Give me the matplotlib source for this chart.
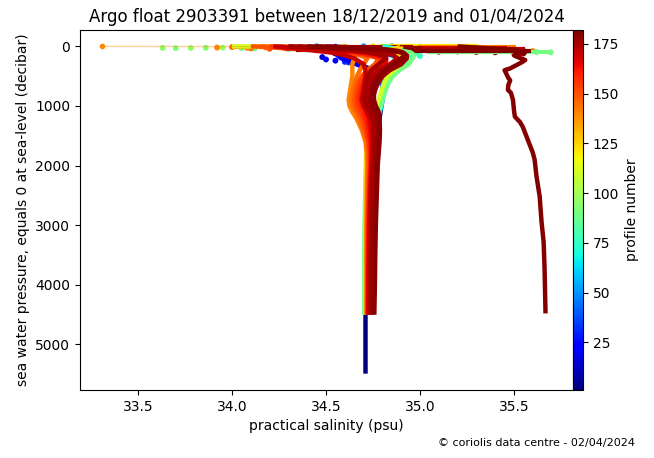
import numpy as np
import matplotlib
matplotlib.use("Agg")
import matplotlib.pyplot as plt
from matplotlib import cm
from matplotlib.colors import Normalize

# pressure levels (decibar) shared by most profiles
pres_levels = [0, 5, 25, 50, 75, 100, 150, 200, 300, 400, 500, 600, 700, 800, 900,
               1000, 1100, 1200, 1400, 1600, 1800, 2000, 2500, 3000, 3500, 4000, 4500]

# profile 1 goes deeper than the others
pres_001 = pres_levels + [4800, 5100, 5490]
sal_001 = [34.55, 34.55, 34.55, 34.56, 34.57, 34.58, 34.60, 34.62, 34.68, 34.75, 34.79, 34.81,
           34.81, 34.80, 34.80, 34.795, 34.79, 34.785, 34.775, 34.76, 34.75, 34.74, 34.73,
           34.72, 34.715, 34.712, 34.71, 34.71, 34.71, 34.71]

sal_020 = [34.48, 34.48, 34.49, 34.50, 34.52, 34.54, 34.56, 34.58, 34.66, 34.74, 34.78, 34.80,
           34.805, 34.80, 34.795, 34.79, 34.785, 34.78, 34.77, 34.755, 34.745, 34.74, 34.73,
           34.72, 34.715, 34.712, 34.71]
sal_045 = [34.60, 34.60, 34.62, 34.66, 34.72, 34.78, 34.85, 34.88, 34.86, 34.83, 34.81, 34.80,
           34.80, 34.795, 34.79, 34.785, 34.78, 34.775, 34.765, 34.75, 34.74, 34.735, 34.725,
           34.718, 34.714, 34.71, 34.71]
sal_070 = [34.80, 34.82, 34.85, 34.88, 34.91, 34.93, 34.95, 34.96, 34.93, 34.88, 34.85, 34.83,
           34.82, 34.81, 34.80, 34.795, 34.785, 34.775, 34.76, 34.745, 34.73, 34.72, 34.712,
           34.708, 34.706, 34.705, 34.705]
sal_090 = [34.20, 34.30, 34.60, 34.80, 34.90, 34.95, 34.97, 34.96, 34.94, 34.89, 34.855, 34.835,
           34.82, 34.81, 34.80, 34.79, 34.78, 34.77, 34.75, 34.73, 34.72, 34.715, 34.708,
           34.705, 34.704, 34.704, 34.704]
sal_110 = [34.00, 34.20, 34.45, 34.65, 34.78, 34.86, 34.92, 34.93, 34.90, 34.86, 34.83, 34.81,
           34.80, 34.79, 34.78, 34.77, 34.76, 34.75, 34.735, 34.725, 34.718, 34.713, 34.71,
           34.708, 34.708, 34.708, 34.708]
sal_125 = [34.90, 34.90, 34.88, 34.85, 34.85, 34.87, 34.90, 34.90, 34.85, 34.80, 34.76, 34.73,
           34.71, 34.70, 34.69, 34.69, 34.70, 34.705, 34.71, 34.713, 34.713, 34.712, 34.71,
           34.71, 34.71, 34.71, 34.71]
sal_140 = [33.31, 34.20, 34.30, 34.40, 34.50, 34.58, 34.63, 34.65, 34.64, 34.64, 34.64, 34.635,
           34.63, 34.625, 34.62, 34.625, 34.64, 34.66, 34.69, 34.71, 34.718, 34.72, 34.717,
           34.715, 34.715, 34.715, 34.715]
sal_145 = [34.15, 34.20, 34.30, 34.42, 34.52, 34.60, 34.68, 34.72, 34.70, 34.68, 34.665, 34.655,
           34.645, 34.64, 34.635, 34.64, 34.655, 34.67, 34.695, 34.715, 34.722, 34.723, 34.72,
           34.718, 34.718, 34.718, 34.718]
sal_150 = [34.10, 34.15, 34.25, 34.40, 34.52, 34.62, 34.72, 34.78, 34.76, 34.72, 34.69, 34.67,
           34.66, 34.655, 34.65, 34.655, 34.67, 34.685, 34.705, 34.722, 34.728, 34.728, 34.724,
           34.72, 34.72, 34.72, 34.72]
sal_155 = [34.20, 34.22, 34.30, 34.42, 34.54, 34.64, 34.74, 34.80, 34.78, 34.74, 34.70, 34.685,
           34.675, 34.67, 34.665, 34.67, 34.685, 34.70, 34.715, 34.728, 34.733, 34.733, 34.728,
           34.724, 34.722, 34.721, 34.72]
sal_160 = [34.25, 34.28, 34.35, 34.45, 34.55, 34.65, 34.75, 34.80, 34.80, 34.76, 34.72, 34.70,
           34.69, 34.68, 34.68, 34.69, 34.70, 34.71, 34.725, 34.735, 34.738, 34.737, 34.73,
           34.726, 34.724, 34.723, 34.722]
sal_165 = [34.30, 34.32, 34.40, 34.50, 34.60, 34.70, 34.78, 34.82, 34.82, 34.78, 34.74, 34.72,
           34.71, 34.70, 34.70, 34.705, 34.715, 34.725, 34.735, 34.742, 34.742, 34.74, 34.734,
           34.73, 34.727, 34.725, 34.724]
sal_170 = [34.22, 34.25, 34.30, 34.38, 34.45, 34.52, 34.60, 34.65, 34.70, 34.71, 34.71, 34.705,
           34.70, 34.695, 34.69, 34.70, 34.72, 34.735, 34.745, 34.748, 34.745, 34.742, 34.737,
           34.733, 34.73, 34.728, 34.727]
sal_174 = [34.35, 34.40, 34.50, 34.62, 34.72, 34.80, 34.86, 34.88, 34.84, 34.78, 34.75, 34.735,
           34.725, 34.72, 34.72, 34.73, 34.745, 34.755, 34.762, 34.763, 34.76, 34.756, 34.75,
           34.745, 34.742, 34.74, 34.738]
sal_176 = [34.30, 34.35, 34.45, 34.55, 34.65, 34.72, 34.80, 34.82, 34.78, 34.74, 34.725, 34.715,
           34.71, 34.705, 34.705, 34.715, 34.735, 34.748, 34.755, 34.757, 34.754, 34.75, 34.745,
           34.74, 34.737, 34.735, 34.733]
sal_177 = [34.50, 34.55, 34.70, 34.82, 34.88, 34.91, 34.93, 34.93, 34.90, 34.84, 34.80, 34.78,
           34.765, 34.755, 34.75, 34.755, 34.765, 34.775, 34.78, 34.78, 34.776, 34.772, 34.765,
           34.76, 34.756, 34.753, 34.75]
sal_178 = [34.45, 34.50, 34.62, 34.78, 34.86, 34.90, 34.92, 34.92, 34.88, 34.82, 34.775, 34.755,
           34.745, 34.74, 34.735, 34.745, 34.76, 34.77, 34.775, 34.773, 34.77, 34.766, 34.76,
           34.755, 34.752, 34.75, 34.748]
sal_180 = [34.40, 34.45, 34.60, 34.75, 34.85, 34.90, 34.92, 34.90, 34.86, 34.81, 34.785, 34.77,
           34.76, 34.755, 34.755, 34.765, 34.78, 34.785, 34.787, 34.785, 34.78, 34.775, 34.77,
           34.765, 34.762, 34.76, 34.757]

# last profile, drifted salinity
pres_181 = [0, 30, 60, 100, 150, 180, 230, 270, 370, 400, 430, 530, 570, 650, 730, 780, 900,
            1070, 1180, 1270, 1350, 1570, 1780, 1900, 2180, 2520, 2950, 3280, 3730, 4480]
sal_181 = [35.20, 35.35, 35.50, 35.56, 35.50, 35.52, 35.56, 35.54, 35.48, 35.45, 35.455, 35.47,
           35.48, 35.47, 35.468, 35.484, 35.495, 35.50, 35.505, 35.532, 35.547, 35.574, 35.60,
           35.61, 35.62, 35.637, 35.647, 35.658, 35.663, 35.668]

profile_numbers = [1, 20, 45, 70, 90, 110, 125, 140, 145, 150, 155, 160, 165,
                   170, 174, 176, 177, 178, 180, 181]
profile_sal = [sal_001, sal_020, sal_045, sal_070, sal_090, sal_110, sal_125, sal_140, sal_145,
               sal_150, sal_155, sal_160, sal_165, sal_170, sal_174, sal_176, sal_177, sal_178,
               sal_180, sal_181]
profile_pres = [pres_001] + [pres_levels] * (len(profile_numbers) - 2) + [pres_181]

# near-surface streaks: many close samples in the top 150 dbar
streak_prof = [120, 145, 140, 90, 176, 178, 172, 180, 175, 179, 173, 177, 181, 168, 174]
streak_pres = [0, 10, 15, 95, 5, 20, 40, 60, 80, 100, 120, 150, 75, 30, 50]
streak_lo = [34.80, 34.00, 35.00, 35.05, 34.22, 34.25, 34.30, 34.35, 34.45, 34.50,
             34.55, 34.62, 34.95, 34.90, 35.00]
streak_hi = [35.30, 34.30, 35.50, 35.69, 34.95, 35.00, 34.95, 34.95, 34.95, 34.92,
             34.90, 34.90, 35.58, 35.45, 35.55]

# scattered near-surface samples
spray_sal = [33.63, 33.70, 33.78, 33.86, 33.95, 34.05, 34.12, 34.30, 34.40, 35.25, 35.35, 35.45,
             35.55, 35.62, 35.695, 34.95, 35.05, 34.98, 35.00, 34.90,
             33.92, 34.00, 34.08, 34.18, 34.28, 34.60, 34.75, 34.95, 35.05, 35.15, 35.25, 35.35,
             35.45, 35.55, 35.60, 34.10, 34.20, 35.40, 35.50,
             34.45, 34.55, 34.70, 34.85, 35.00, 34.50, 34.55, 34.60, 34.48, 34.62,
             35.10, 35.20, 35.30, 35.40, 35.50, 35.55, 35.25, 35.35]
spray_pres = [25, 30, 28, 25, 20, 30, 35, 45, 50, 65, 70, 72, 85, 95, 100, 75, 80, 120, 160, 180,
              20, 12, 25, 18, 30, 5, 0, 8, 15, 20, 40, 55, 60, 70, 80, 35, 40, 30, 45,
              0, 5, 0, 0, 5, 220, 240, 260, 180, 270,
              90, 85, 95, 100, 110, 120, 60, 55]
spray_prof = [95, 92, 96, 94, 98, 90, 88, 85, 80, 92, 88, 95, 90, 92, 90, 85, 95, 80, 75, 85,
              140, 145, 138, 142, 148, 125, 120, 128, 130, 135, 140, 145, 140, 150, 142, 145, 150,
              130, 135,
              40, 35, 50, 45, 55, 25, 20, 30, 15, 35,
              172, 178, 170, 176, 180, 181, 175, 179]

thin_top = [140]  # profiles whose first (surface) segment is an isolated outlier

cmap = cm.jet
norm = Normalize(vmin=1, vmax=182)

fig = plt.figure(figsize=(6.54, 4.58), dpi=100)
ax = fig.add_axes([80 / 654, 1 - 390 / 458, 493 / 654, 360 / 458])

order = np.argsort(spray_prof, kind="stable")
ax.scatter(np.array(spray_sal)[order], np.array(spray_pres)[order],
           c=np.array(spray_prof)[order], cmap=cmap, norm=norm, s=18, zorder=1, linewidths=0)

for n, p, lo, hi in sorted(zip(streak_prof, streak_pres, streak_lo, streak_hi)):
    ax.plot([lo, hi], [p, p], color=cmap(norm(n)), lw=3, zorder=1.5)

for n, p, s in zip(profile_numbers, profile_pres, profile_sal):
    col = cmap(norm(n))
    if n in thin_top:
        ax.plot(s[:2], p[:2], color=col, lw=1, alpha=0.4, zorder=2)
        ax.plot(s[:1], p[:1], "o", color=col, ms=3, zorder=2)
        s, p = s[1:], p[1:]
    ax.plot(s, p, color=col, lw=3.2, solid_capstyle="butt", zorder=2)

ax.invert_yaxis()
ax.set_yticks([0, 1000, 2000, 3000, 4000, 5000])
ax.set_xticks([33.5, 34.0, 34.5, 35.0, 35.5])
ax.set_xlabel("practical salinity (psu)")
ax.set_ylabel("sea water pressure, equals 0 at sea-level (decibar)")
ax.set_title("Argo float 2903391 between 18/12/2019 and 01/04/2024")

cax = fig.add_axes([573 / 654, 1 - 390 / 458, 10 / 654, 360 / 458])
sm = cm.ScalarMappable(norm=norm, cmap=cmap)
cb = fig.colorbar(sm, cax=cax)
cb.set_ticks([25, 50, 75, 100, 125, 150, 175])
cb.set_label("profile number")

fig.text(635 / 654, 1 - 443 / 458, "\u00a9 coriolis data centre - 02/04/2024",
         ha="right", va="center", fontsize=8)

fig.savefig("out.png", dpi=100)
